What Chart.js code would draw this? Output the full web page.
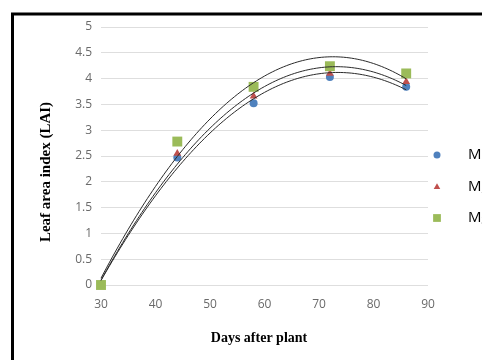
<!DOCTYPE html>
<html>
<head>
<meta charset="utf-8">
<script src="https://cdn.jsdelivr.net/npm/chart.js@4.4.1/dist/chart.umd.min.js"></script>
<style>
  html, body { margin: 0; padding: 0; background: #ffffff; }
  #wrap { width: 482px; height: 360px; position: relative; }
</style>
</head>
<body>
<div id="wrap"><canvas id="lai" width="482" height="360"></canvas></div>
<script>
// Sampling dates (days after planting)
const days = [30, 44, 58, 72, 86];

// Leaf area index per treatment
const seriesNames = ['M\u2081', 'M\u2082', 'M\u2083'];
const laiM1 = [0, 2.47, 3.52, 4.03, 3.84];
const laiM2 = [0, 2.55, 3.66, 4.10, 3.94];
const laiM3 = [0, 2.78, 3.84, 4.24, 4.10];

// Axis tick values
const xTicks = [30, 40, 50, 60, 70, 80, 90];
const yTicks = [0, 0.5, 1, 1.5, 2, 2.5, 3, 3.5, 4, 4.5, 5];

const xTitle = 'Days after plant';
const yTitle = 'Leaf area index (LAI)';

// Second-order polynomial least-squares fit (trendline) of one series
function quadFit(xs, ys) {
  const n = xs.length;
  let s = [0, 0, 0, 0, 0], t = [0, 0, 0];
  for (let i = 0; i < n; i++) {
    const x = xs[i], y = ys[i];
    for (let k = 0; k <= 4; k++) s[k] += Math.pow(x, k);
    for (let k = 0; k <= 2; k++) t[k] += Math.pow(x, k) * y;
  }
  // normal equations: [[s0,s1,s2],[s1,s2,s3],[s2,s3,s4]] * [a,b,c] = t
  const M = [[s[0], s[1], s[2], t[0]], [s[1], s[2], s[3], t[1]], [s[2], s[3], s[4], t[2]]];
  for (let c = 0; c < 3; c++) {
    for (let r = c + 1; r < 3; r++) {
      const f = M[r][c] / M[c][c];
      for (let k = c; k < 4; k++) M[r][k] -= f * M[c][k];
    }
  }
  const coef = [0, 0, 0];
  for (let r = 2; r >= 0; r--) {
    let v = M[r][3];
    for (let k = r + 1; k < 3; k++) v -= M[r][k] * coef[k];
    coef[r] = v / M[r][r];
  }
  return x => coef[0] + coef[1] * x + coef[2] * x * x;
}

function trendPoints(ys) {
  const f = quadFit(days, ys);
  const pts = [];
  const x0 = days[0], x1 = days[days.length - 1];
  for (let x = x0; x <= x1 + 1e-9; x += 0.5) pts.push({ x: x, y: f(x) });
  return pts;
}

const toXY = ys => days.map((d, i) => ({ x: d, y: ys[i] }));

const markerStyles = [
  { color: '#4F81BD', pointStyle: 'circle', radius: 4, legendRadius: 3.5 },
  { color: '#C0504D', pointStyle: 'triangle', radius: 4.5, legendRadius: 3.8 },
  { color: '#9BBB59', pointStyle: 'rect', radius: 7, legendRadius: 5.5 }
];
const allSeries = [laiM1, laiM2, laiM3];

const datasets = [];
allSeries.forEach((ys, i) => {
  const st = markerStyles[i];
  datasets.push({
    label: seriesNames[i],
    data: toXY(ys),
    showLine: false,
    clip: false,
    pointStyle: st.pointStyle,
    pointRadius: st.radius,
    pointHoverRadius: st.radius,
    pointBackgroundColor: st.color,
    pointBorderColor: st.color,
    pointBorderWidth: 0,
    order: 3 - i
  });
});
allSeries.forEach((ys, i) => {
  datasets.push({
    label: 'trend ' + seriesNames[i],
    data: trendPoints(ys),
    showLine: true,
    clip: false,
    pointRadius: 0,
    borderColor: '#2b2b2b',
    borderWidth: 1,
    tension: 0,
    order: 0
  });
});

// Outer frame
const framePlugin = {
  id: 'frame',
  beforeDraw(chart) {
    const ctx = chart.ctx;
    ctx.save();
    ctx.fillStyle = '#ffffff';
    ctx.fillRect(0, 0, chart.width, chart.height);
    ctx.strokeStyle = '#000000';
    ctx.lineWidth = 3;
    ctx.strokeRect(12.5, 14, 1000, 1000);
    ctx.restore();
  }
};

// Axis titles
const titlePlugin = {
  id: 'axisTitles',
  afterDraw(chart) {
    const ctx = chart.ctx;
    ctx.save();
    ctx.fillStyle = '#000000';
    ctx.textAlign = 'center';
    ctx.textBaseline = 'middle';
    ctx.font = 'bold 14px "Liberation Serif", "Times New Roman", serif';
    ctx.fillText(xTitle, 259, 338);
    ctx.font = 'bold 15px "Liberation Serif", "Times New Roman", serif';
    ctx.translate(46, 172);
    ctx.rotate(-Math.PI / 2);
    ctx.fillText(yTitle, 0, 0);
    ctx.restore();
  }
};

// Legend on the right
const legendPlugin = {
  id: 'sideLegend',
  afterDraw(chart) {
    const ctx = chart.ctx;
    const rows = [155, 187, 218];
    ctx.save();
    for (let i = 0; i < 3; i++) {
      const ds = chart.data.datasets[i];
      const y = rows[i];
      ctx.fillStyle = ds.pointBackgroundColor;
      ctx.strokeStyle = ds.pointBackgroundColor;
      Chart.helpers.drawPoint(ctx, {
        pointStyle: ds.pointStyle,
        radius: markerStyles[i].legendRadius,
        borderWidth: 0,
        rotation: 0
      }, 437, y);
      ctx.fillStyle = '#000000';
      ctx.font = '15px "Liberation Sans Narrow", "Open Sans", sans-serif';
      ctx.textAlign = 'left';
      ctx.textBaseline = 'middle';
      ctx.fillText(ds.label, 468, y);
    }
    ctx.restore();
  }
};

const tickFont = { family: '"Liberation Sans Narrow", "Open Sans", sans-serif', size: 12 };

new Chart(document.getElementById('lai'), {
  type: 'scatter',
  data: { datasets: datasets },
  options: {
    responsive: false,
    animation: false,
    devicePixelRatio: 1,
    layout: { padding: { left: 12, right: 54, top: 27, bottom: 0 } },
    plugins: { legend: { display: false }, tooltip: { enabled: false } },
    scales: {
      x: {
        type: 'linear',
        min: xTicks[0],
        max: xTicks[xTicks.length - 1],
        afterBuildTicks: s => { s.ticks = xTicks.map(v => ({ value: v })); },
        afterFit: s => { s.height = 75; },
        grid: { display: false, drawTicks: false },
        border: { display: false },
        ticks: { color: '#6a6a6a', font: tickFont, padding: 12, maxRotation: 0, callback: v => String(v) }
      },
      y: {
        type: 'linear',
        min: yTicks[0],
        max: yTicks[yTicks.length - 1],
        afterBuildTicks: s => { s.ticks = yTicks.map(v => ({ value: v })); },
        afterFit: s => { s.width = 89; },
        grid: { color: '#dedede', lineWidth: 1, drawTicks: false },
        border: { display: false },
        ticks: { color: '#6a6a6a', font: tickFont, padding: 9, callback: v => String(v) }
      }
    }
  },
  plugins: [framePlugin, titlePlugin, legendPlugin]
});
</script>
</body>
</html>
